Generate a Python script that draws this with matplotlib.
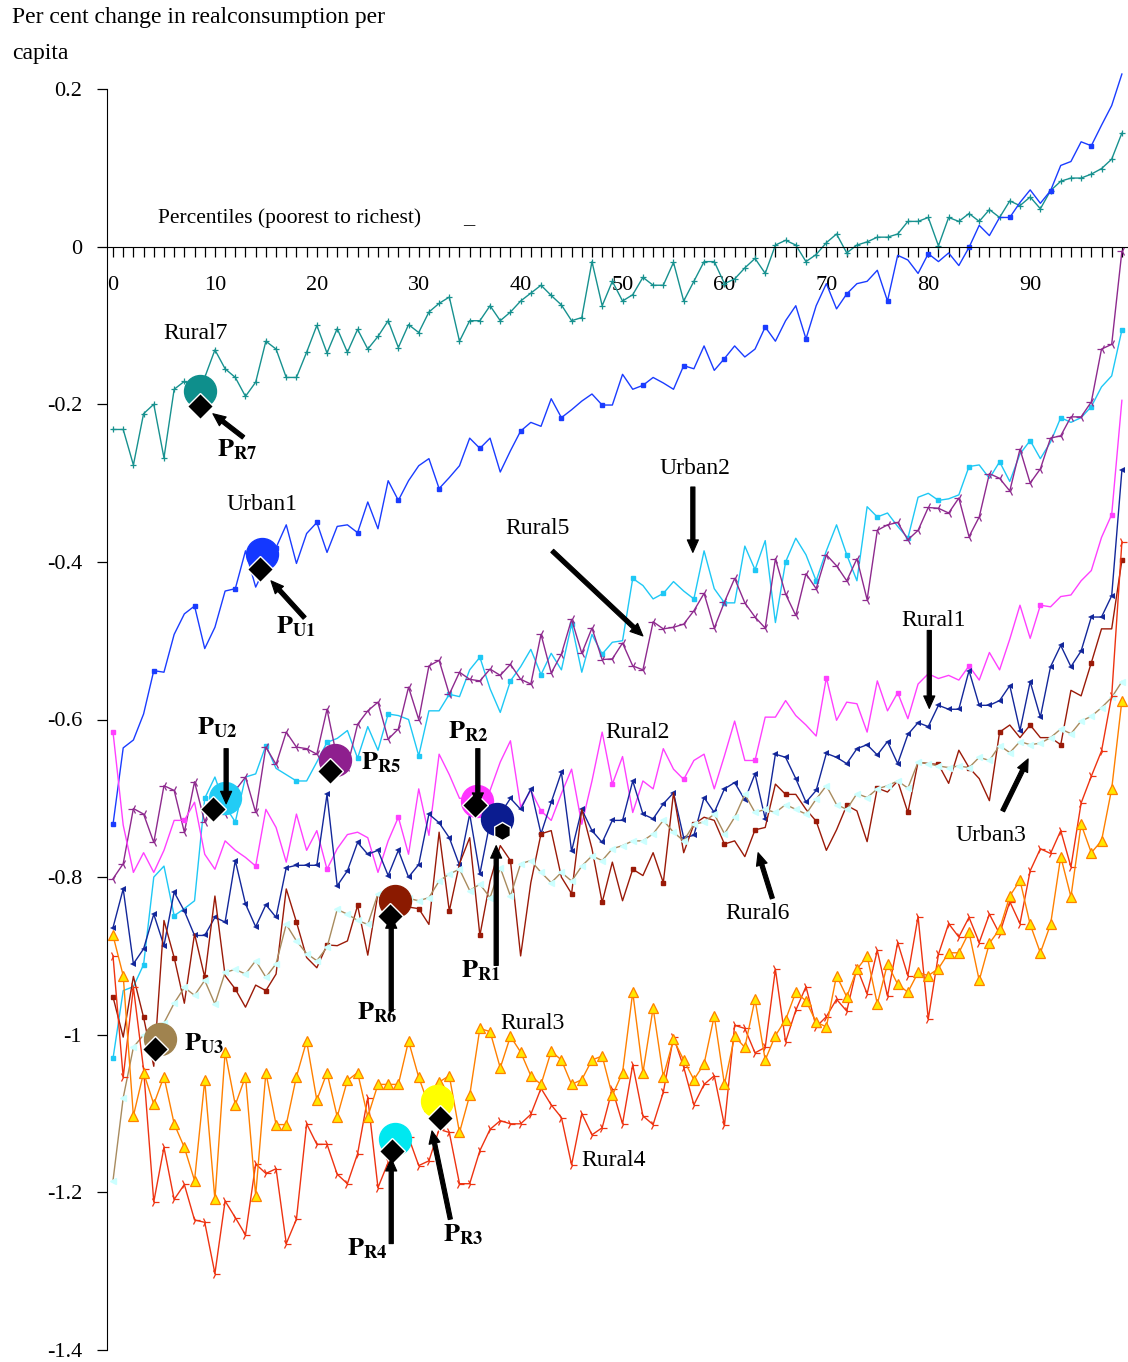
import numpy as np
import matplotlib
matplotlib.use("Agg")
import matplotlib.pyplot as plt
from matplotlib.ticker import FixedLocator, MultipleLocator

plt.rcParams['font.family'] = ['Liberation Serif', 'DejaVu Serif']
plt.rcParams['mathtext.fontset'] = 'stix'

# percentiles, poorest to richest
pct = list(range(100))

rural7 = [-0.232, -0.232, -0.277, -0.212, -0.200, -0.268, -0.181, -0.171, -0.180, -0.166,
          -0.131, -0.155, -0.166, -0.190, -0.172, -0.120, -0.130, -0.166, -0.166, -0.134,
          -0.100, -0.135, -0.104, -0.134, -0.105, -0.130, -0.114, -0.094, -0.128, -0.099,
          -0.109, -0.083, -0.072, -0.064, -0.120, -0.094, -0.094, -0.075, -0.094, -0.083,
          -0.069, -0.059, -0.049, -0.062, -0.074, -0.094, -0.090, -0.019, -0.075, -0.044,
          -0.069, -0.061, -0.039, -0.049, -0.049, -0.020, -0.069, -0.044, -0.019, -0.019,
          -0.047, -0.041, -0.027, -0.015, -0.034, 0.002, 0.008, 0.002, -0.019, -0.010,
          0.005, 0.016, -0.008, 0.002, 0.006, 0.012, 0.012, 0.016, 0.032, 0.032,
          0.037, 0.001, 0.037, 0.032, 0.042, 0.032, 0.047, 0.037, 0.058, 0.052,
          0.063, 0.048, 0.071, 0.083, 0.087, 0.087, 0.092, 0.099, 0.111, 0.144]

urban1 = [-0.733, -0.636, -0.626, -0.593, -0.538, -0.540, -0.492, -0.466, -0.456, -0.510,
          -0.483, -0.437, -0.434, -0.386, -0.432, -0.405, -0.382, -0.353, -0.402, -0.364,
          -0.350, -0.388, -0.355, -0.353, -0.363, -0.324, -0.358, -0.297, -0.322, -0.297,
          -0.278, -0.269, -0.307, -0.293, -0.278, -0.243, -0.256, -0.243, -0.286, -0.259,
          -0.234, -0.223, -0.228, -0.193, -0.217, -0.207, -0.196, -0.187, -0.201, -0.201,
          -0.162, -0.181, -0.176, -0.166, -0.173, -0.181, -0.151, -0.155, -0.126, -0.157,
          -0.142, -0.126, -0.140, -0.130, -0.102, -0.120, -0.094, -0.075, -0.117, -0.075,
          -0.047, -0.079, -0.060, -0.047, -0.044, -0.030, -0.069, -0.011, -0.017, -0.034,
          -0.009, -0.019, -0.008, -0.024, -0.001, 0.027, 0.014, 0.037, 0.037, 0.056,
          0.072, 0.055, 0.071, 0.103, 0.108, 0.133, 0.128, 0.154, 0.179, 0.219]

urban2 = [-1.030, -0.944, -0.939, -0.911, -0.800, -0.786, -0.849, -0.840, -0.830, -0.700,
          -0.673, -0.710, -0.730, -0.673, -0.669, -0.633, -0.662, -0.670, -0.678, -0.678,
          -0.654, -0.629, -0.624, -0.614, -0.649, -0.609, -0.639, -0.593, -0.595, -0.600,
          -0.646, -0.589, -0.589, -0.568, -0.571, -0.537, -0.521, -0.561, -0.591, -0.551,
          -0.533, -0.511, -0.543, -0.516, -0.537, -0.479, -0.540, -0.492, -0.517, -0.502,
          -0.500, -0.421, -0.430, -0.447, -0.440, -0.425, -0.437, -0.447, -0.386, -0.434,
          -0.452, -0.452, -0.380, -0.410, -0.373, -0.477, -0.400, -0.370, -0.391, -0.424,
          -0.386, -0.353, -0.391, -0.424, -0.330, -0.343, -0.338, -0.355, -0.370, -0.318,
          -0.313, -0.322, -0.320, -0.315, -0.279, -0.277, -0.294, -0.273, -0.298, -0.263,
          -0.246, -0.269, -0.248, -0.217, -0.223, -0.217, -0.203, -0.178, -0.164, -0.106]

rural5 = [-0.802, -0.783, -0.713, -0.720, -0.756, -0.684, -0.690, -0.743, -0.679, -0.730,
          -0.700, -0.720, -0.690, -0.673, -0.718, -0.635, -0.657, -0.616, -0.635, -0.637,
          -0.644, -0.587, -0.650, -0.660, -0.606, -0.589, -0.578, -0.625, -0.612, -0.559,
          -0.600, -0.532, -0.525, -0.568, -0.540, -0.549, -0.551, -0.536, -0.544, -0.530,
          -0.549, -0.555, -0.492, -0.541, -0.517, -0.473, -0.516, -0.484, -0.524, -0.523,
          -0.503, -0.532, -0.537, -0.476, -0.485, -0.483, -0.479, -0.462, -0.440, -0.484,
          -0.451, -0.421, -0.452, -0.470, -0.484, -0.396, -0.441, -0.468, -0.415, -0.434,
          -0.391, -0.405, -0.424, -0.396, -0.448, -0.360, -0.353, -0.350, -0.372, -0.360,
          -0.331, -0.332, -0.338, -0.319, -0.368, -0.343, -0.288, -0.294, -0.310, -0.257,
          -0.300, -0.282, -0.243, -0.240, -0.216, -0.216, -0.197, -0.130, -0.124, -0.006]

rural2 = [-0.616, -0.734, -0.794, -0.769, -0.794, -0.766, -0.728, -0.728, -0.705, -0.771,
          -0.790, -0.754, -0.766, -0.775, -0.786, -0.714, -0.737, -0.781, -0.720, -0.766,
          -0.741, -0.790, -0.764, -0.746, -0.743, -0.750, -0.794, -0.754, -0.724, -0.771,
          -0.688, -0.747, -0.644, -0.670, -0.700, -0.700, -0.710, -0.690, -0.654, -0.627,
          -0.711, -0.690, -0.716, -0.728, -0.694, -0.663, -0.733, -0.678, -0.616, -0.682,
          -0.647, -0.718, -0.678, -0.688, -0.637, -0.663, -0.676, -0.652, -0.644, -0.688,
          -0.646, -0.602, -0.652, -0.652, -0.597, -0.597, -0.576, -0.595, -0.607, -0.621,
          -0.547, -0.601, -0.578, -0.580, -0.616, -0.551, -0.589, -0.566, -0.599, -0.555,
          -0.542, -0.548, -0.544, -0.550, -0.532, -0.550, -0.515, -0.537, -0.498, -0.455,
          -0.497, -0.455, -0.457, -0.444, -0.442, -0.424, -0.411, -0.369, -0.340, -0.195]

rural1 = [-0.864, -0.815, -0.910, -0.891, -0.847, -0.887, -0.819, -0.843, -0.874, -0.874,
          -0.851, -0.857, -0.779, -0.834, -0.863, -0.835, -0.851, -0.788, -0.785, -0.785,
          -0.785, -0.695, -0.811, -0.792, -0.756, -0.771, -0.766, -0.798, -0.766, -0.800,
          -0.784, -0.720, -0.731, -0.750, -0.785, -0.720, -0.796, -0.730, -0.720, -0.700,
          -0.714, -0.688, -0.745, -0.705, -0.667, -0.767, -0.714, -0.741, -0.756, -0.728,
          -0.728, -0.678, -0.720, -0.726, -0.707, -0.693, -0.750, -0.747, -0.699, -0.718,
          -0.688, -0.680, -0.702, -0.669, -0.726, -0.644, -0.648, -0.675, -0.705, -0.690,
          -0.643, -0.648, -0.656, -0.637, -0.632, -0.645, -0.628, -0.656, -0.619, -0.604,
          -0.609, -0.582, -0.587, -0.587, -0.538, -0.582, -0.582, -0.576, -0.557, -0.614,
          -0.552, -0.597, -0.533, -0.506, -0.533, -0.513, -0.470, -0.470, -0.443, -0.284]

rural6 = [-0.952, -1.003, -0.926, -0.978, -1.040, -0.855, -0.902, -0.960, -0.872, -0.927,
          -0.824, -0.925, -0.942, -0.965, -0.937, -0.944, -0.923, -0.815, -0.857, -0.902,
          -0.915, -0.886, -0.887, -0.881, -0.836, -0.899, -0.821, -0.851, -0.840, -0.838,
          -0.840, -0.860, -0.743, -0.843, -0.783, -0.750, -0.874, -0.805, -0.760, -0.779,
          -0.900, -0.807, -0.745, -0.741, -0.800, -0.821, -0.714, -0.764, -0.832, -0.781,
          -0.830, -0.790, -0.798, -0.769, -0.807, -0.693, -0.769, -0.733, -0.724, -0.728,
          -0.758, -0.754, -0.774, -0.740, -0.737, -0.682, -0.695, -0.695, -0.714, -0.729,
          -0.766, -0.740, -0.709, -0.716, -0.755, -0.687, -0.692, -0.678, -0.718, -0.654,
          -0.656, -0.657, -0.681, -0.639, -0.661, -0.675, -0.703, -0.616, -0.607, -0.623,
          -0.607, -0.623, -0.623, -0.632, -0.563, -0.570, -0.528, -0.485, -0.485, -0.398]

urban3 = [-1.185, -1.080, -1.016, -1.000, -1.000, -0.985, -0.960, -0.940, -0.950, -0.931,
          -0.961, -0.921, -0.917, -0.923, -0.906, -0.927, -0.910, -0.860, -0.881, -0.897,
          -0.906, -0.889, -0.841, -0.847, -0.855, -0.860, -0.821, -0.820, -0.815, -0.827,
          -0.830, -0.826, -0.805, -0.796, -0.790, -0.817, -0.809, -0.826, -0.788, -0.824,
          -0.783, -0.779, -0.794, -0.807, -0.794, -0.805, -0.786, -0.773, -0.779, -0.764,
          -0.760, -0.754, -0.754, -0.745, -0.728, -0.743, -0.754, -0.733, -0.730, -0.720,
          -0.745, -0.724, -0.695, -0.718, -0.714, -0.718, -0.708, -0.714, -0.720, -0.701,
          -0.684, -0.708, -0.714, -0.694, -0.699, -0.688, -0.684, -0.678, -0.687, -0.654,
          -0.656, -0.659, -0.661, -0.659, -0.661, -0.648, -0.652, -0.633, -0.642, -0.628,
          -0.632, -0.630, -0.623, -0.612, -0.618, -0.602, -0.596, -0.585, -0.572, -0.552]

rural3 = [-0.874, -0.925, -1.103, -1.048, -1.088, -1.053, -1.113, -1.143, -1.185, -1.058,
          -1.209, -1.022, -1.089, -1.053, -1.204, -1.048, -1.114, -1.114, -1.053, -1.008,
          -1.083, -1.048, -1.104, -1.058, -1.048, -1.104, -1.063, -1.063, -1.063, -1.008,
          -1.054, -1.090, -1.060, -1.052, -1.124, -1.077, -0.992, -0.996, -1.042, -1.002,
          -1.022, -1.052, -1.063, -1.021, -1.032, -1.063, -1.057, -1.032, -1.027, -1.077,
          -1.048, -0.946, -1.048, -0.966, -1.053, -1.006, -1.032, -1.057, -1.037, -0.976,
          -1.063, -1.002, -1.016, -0.955, -1.032, -1.001, -0.981, -0.946, -0.957, -0.984,
          -0.990, -0.925, -0.952, -0.917, -0.900, -0.961, -0.910, -0.936, -0.946, -0.921,
          -0.925, -0.916, -0.896, -0.896, -0.870, -0.931, -0.884, -0.866, -0.824, -0.804,
          -0.860, -0.896, -0.860, -0.774, -0.825, -0.733, -0.769, -0.754, -0.688, -0.576]

rural4 = [-0.900, -1.054, -0.940, -1.044, -1.212, -1.143, -1.209, -1.190, -1.235, -1.238,
          -1.303, -1.211, -1.232, -1.254, -1.164, -1.176, -1.170, -1.265, -1.234, -1.113,
          -1.139, -1.139, -1.177, -1.189, -1.151, -1.080, -1.194, -1.162, -1.150, -1.130,
          -1.166, -1.160, -1.120, -1.124, -1.189, -1.189, -1.147, -1.120, -1.109, -1.113,
          -1.113, -1.101, -1.068, -1.089, -1.105, -1.165, -1.100, -1.127, -1.118, -1.069,
          -1.113, -1.038, -1.103, -1.114, -1.073, -1.003, -1.041, -1.089, -1.063, -1.052,
          -1.115, -0.988, -0.992, -1.023, -1.016, -0.917, -1.009, -0.969, -0.939, -0.990,
          -0.977, -0.955, -0.970, -0.915, -0.948, -0.893, -0.951, -0.883, -0.925, -0.850,
          -0.980, -0.898, -0.859, -0.876, -0.851, -0.883, -0.847, -0.872, -0.831, -0.859,
          -0.792, -0.764, -0.770, -0.741, -0.787, -0.706, -0.672, -0.640, -0.570, -0.375]

# poverty line points: label, percentile, value (coloured dot) and black marker
pov_names = ['R7', 'U1', 'U2', 'R5', 'R2', 'R1', 'R6', 'U3', 'R4', 'R3']
pov_pct = [8.5, 14.6, 11.0, 21.8, 35.7, 37.7, 27.7, 4.6, 27.7, 31.8]
pov_val = [-0.183, -0.390, -0.700, -0.652, -0.703, -0.726, -0.830, -1.005, -1.132, -1.084]
mark_pct = [8.5, 14.4, 9.8, 21.3, 35.5, 38.2, 27.2, 4.1, 27.4, 32.1]
mark_val = [-0.202, -0.409, -0.713, -0.665, -0.709, -0.741, -0.849, -1.018, -1.147, -1.105]
pov_colors = ['#0e8f8c', '#1438ff', '#22ccf5', '#8e1f8e', '#ff33ff',
              '#0b1c90', '#8b1a00', '#a0834f', '#00e8f0', '#ffff00']

fig = plt.figure(figsize=(11.28, 13.62), dpi=100)
ax = fig.add_axes([107/1128, 12/1362, 1 - 107/1128, 1261/1362])
ax.set_xlim(-0.59, 99.6)
ax.set_ylim(-1.4, 0.2)

lw = 1.0
ax.plot(pct, rural7, color='#17918f', lw=lw, marker='+', ms=5, mew=0.9, clip_on=False)
ax.plot(pct, urban1, color='#1a3cff', lw=lw, marker='s', ms=3, markevery=4, clip_on=False)
ax.plot(pct, urban2, color='#1ec8f5', lw=lw, marker='s', ms=3, markevery=3, clip_on=False)
ax.plot(pct, rural5, color='#8e2a8e', lw=lw, marker='3', ms=7, mew=0.9, clip_on=False)
ax.plot(pct, rural2, color='#ff40ff', lw=lw, marker='s', ms=3, markevery=7, clip_on=False)
ax.plot(pct, rural1, color='#13279a', lw=lw, marker='<', ms=4, mew=0, clip_on=False)
ax.plot(pct, rural6, color='#9a1a08', lw=lw, marker='s', ms=3, markevery=3, clip_on=False)
ax.plot(pct, urban3, color='#a88b5e', lw=lw, marker='<', ms=4.5, mfc='#ccffff', mec='#ccffff',
        clip_on=False)
ax.plot(pct, rural4, color='#ee3311', lw=lw, marker='4', ms=7, mew=0.9, clip_on=False)
ax.plot(pct, rural3, color='#ff8000', lw=lw, marker='^', ms=7, mfc='#ffe800', mec='#ff8000',
        mew=0.9, clip_on=False)

for i, name in enumerate(pov_names):
    ax.plot(pov_pct[i], pov_val[i], 'o', ms=23, color=pov_colors[i], zorder=5)
    shape = 'h' if name == 'R1' else 'D'
    ax.plot(mark_pct[i], mark_val[i], shape, ms=13, mfc='black', mec='white', mew=1, zorder=6)

# axes
ax.spines['top'].set_visible(False)
ax.spines['right'].set_visible(False)
ax.spines['bottom'].set_position(('data', 0))
ax.spines['left'].set_bounds(-1.4, 0.2)
ax.xaxis.set_major_locator(FixedLocator(list(range(0, 100, 10))))
ax.xaxis.set_minor_locator(MultipleLocator(1))
ax.tick_params(axis='x', which='both', direction='out', length=7, width=0.9, labelsize=16, pad=14)
ax.set_xticklabels([str(v) for v in range(0, 100, 10)])
yt = [0.2, 0, -0.2, -0.4, -0.6, -0.8, -1.0, -1.2, -1.4]
ax.set_yticks(yt)
ax.set_yticklabels(['0.2', '0', '-0.2', '-0.4', '-0.6', '-0.8', '-1', '-1.2', '-1.4'])
ax.tick_params(axis='y', direction='out', length=7, width=0.9, labelsize=16, pad=11)

fig.text(12/1128, 1 - 18/1362, 'Per cent change in realconsumption per', fontsize=17,
         va='center', ha='left')
fig.text(12/1128, 1 - 53/1362, 'capita', fontsize=17, va='center', ha='left')
ax.text(17.3, 0.036, 'Percentiles (poorest to richest)', fontsize=15.5, ha='center', va='center')
ax.text(34.9, 0.036, '_', fontsize=16, ha='center', va='center')

# series names
names = [('Rural7', 8.05, -0.110), ('Urban1', 14.6, -0.327), ('Urban2', 57.1, -0.282),
         ('Rural5', 41.7, -0.358), ('Rural1', 80.5, -0.475), ('Rural2', 51.5, -0.617),
         ('Urban3', 86.1, -0.747), ('Rural6', 63.2, -0.846), ('Rural3', 41.2, -0.986),
         ('Rural4', 49.1, -1.160)]
for txt, x, y in names:
    ax.text(x, y, txt, fontsize=17, ha='center', va='center')

# poverty point labels
plabels = [('R7', 12.2, -0.258), ('U1', 18.0, -0.482), ('U2', 10.2, -0.610),
           ('R2', 34.9, -0.616), ('R5', 26.3, -0.655), ('R1', 36.1, -0.919),
           ('R6', 25.9, -0.972), ('U3', 9.0, -1.011), ('R4', 25.0, -1.272),
           ('R3', 34.4, -1.254)]
for sub, x, y in plabels:
    ax.text(x, y, r'$\mathbf{P}_{\mathbf{%s}}$' % sub, fontsize=19, ha='center', va='center')

arrows = [((12.8, -0.242), (9.8, -0.212)), ((18.8, -0.471), (15.5, -0.424)),
          ((56.9, -0.305), (56.9, -0.388)), ((43.1, -0.386), (52.0, -0.494)),
          ((80.1, -0.487), (80.1, -0.586)), ((11.1, -0.637), (11.1, -0.707)),
          ((35.8, -0.637), (35.8, -0.709)), ((87.3, -0.716), (89.8, -0.650)),
          ((64.7, -0.827), (63.3, -0.769)), ((37.6, -0.912), (37.6, -0.760)),
          ((27.3, -0.970), (27.3, -0.849)), ((27.3, -1.265), (27.3, -1.157)),
          ((33.1, -1.234), (31.3, -1.122))]
for tail, head in arrows:
    ax.annotate('', xy=head, xytext=tail, zorder=7,
                arrowprops=dict(arrowstyle='simple,head_length=0.9,head_width=0.8,tail_width=0.3',
                                fc='black', ec='black', lw=0.8, shrinkA=0, shrinkB=0))

fig.savefig('out.png', dpi=100)
